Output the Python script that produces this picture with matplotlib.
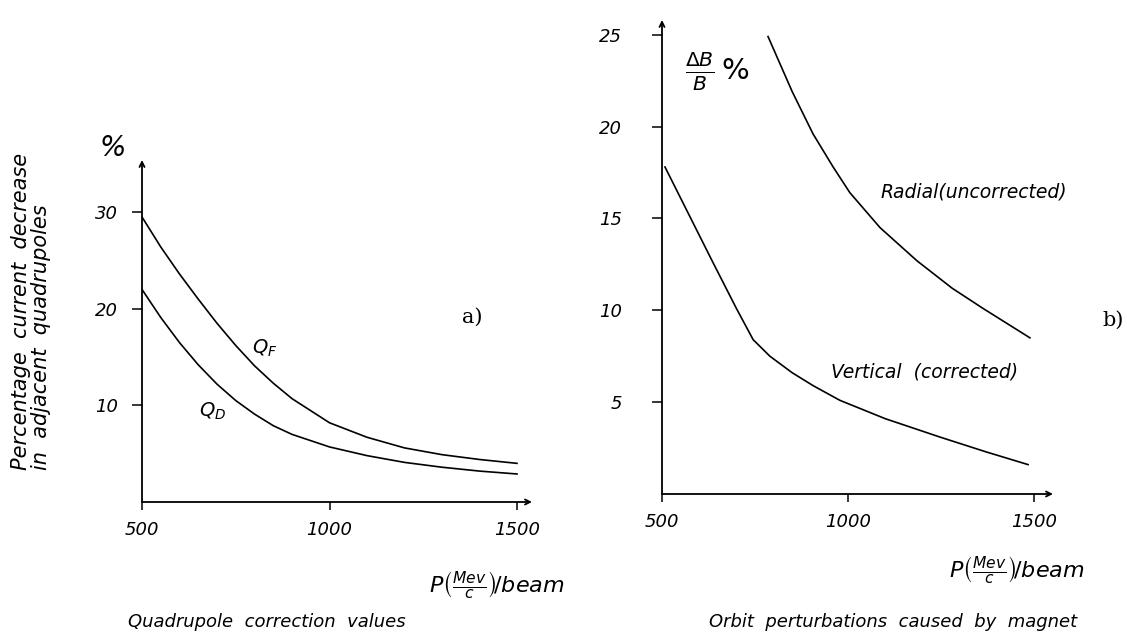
import matplotlib
matplotlib.use("Agg")
import matplotlib.pyplot as plt

plt.rcParams['font.family'] = ['DejaVu Sans']
plt.rcParams['mathtext.fontset'] = 'dejavusans'

# ---- data: panel a) quadrupole correction values ----
qf_p = [500, 550, 600, 650, 700, 750, 800, 850, 900, 1000, 1100, 1200, 1300, 1400, 1500]
qf_v = [29.5, 26.4, 23.6, 21.0, 18.5, 16.2, 14.1, 12.3, 10.7, 8.2, 6.7, 5.6, 4.9, 4.4, 4.0]
qd_p = [500, 550, 600, 650, 700, 750, 800, 850, 900, 1000, 1100, 1200, 1300, 1400, 1500]
qd_v = [22.0, 19.1, 16.5, 14.2, 12.2, 10.5, 9.1, 7.9, 7.0, 5.7, 4.8, 4.1, 3.6, 3.2, 2.9]
a_xticks = [500, 1000, 1500]
a_yticks = [10, 20, 30]

# ---- data: panel b) orbit perturbations ----
rad_p = [785, 850, 906, 960, 1005, 1086, 1185, 1280, 1363, 1489]
rad_v = [24.9, 21.9, 19.6, 17.8, 16.4, 14.5, 12.7, 11.2, 10.1, 8.5]
ver_p = [508, 570, 637, 700, 745, 790, 850, 906, 978, 1100, 1247, 1370, 1484]
ver_v = [17.8, 15.3, 12.6, 10.1, 8.4, 7.5, 6.6, 5.9, 5.1, 4.1, 3.1, 2.3, 1.6]
b_xticks = [500, 1000, 1500]
b_yticks = [5, 10, 15, 20, 25]

W, H = 1127, 636
fig = plt.figure(figsize=(W / 100, H / 100), dpi=100)
fig.patch.set_facecolor('white')


def fx(px):
    return px / W


def fy(py):
    return 1 - py / H


def style_axes(ax):
    for s in ax.spines.values():
        s.set_visible(False)
    arrow = dict(arrowstyle='->', lw=1.3, color='black', shrinkA=0, shrinkB=0,
                 mutation_scale=9)
    ax.annotate('', xy=(0, 1), xytext=(0, 0), xycoords='axes fraction',
                textcoords='axes fraction', arrowprops=arrow)
    ax.annotate('', xy=(1, 0), xytext=(0, 0), xycoords='axes fraction',
                textcoords='axes fraction', arrowprops=arrow)
    ax.tick_params(axis='y', direction='out', length=7, width=1.1, pad=10,
                   labelsize=13)
    ax.tick_params(axis='x', direction='out', length=6, width=1.1, pad=8,
                   labelsize=13)
    for lab in ax.get_xticklabels() + ax.get_yticklabels():
        lab.set_fontstyle('italic')


# ---- panel a ----
axa = fig.add_axes([fx(142), fy(502), fx(390), 342 / H])
axa.plot(qf_p, qf_v, color='black', lw=1.2)
axa.plot(qd_p, qd_v, color='black', lw=1.2)
axa.set_xlim(500, 1540)
axa.set_ylim(0, 35.4)
axa.set_xticks(a_xticks)
axa.set_yticks(a_yticks)
style_axes(axa)

fig.text(fx(113), fy(148), '%', fontsize=20, style='italic', ha='center', va='center')
fig.text(fx(31), fy(470), 'Percentage  current  decrease\nin  adjacent  quadrupoles',
         rotation=90, fontsize=15, style='italic', ha='center', va='bottom',
         multialignment='left', linespacing=1.0)
fig.text(fx(265), fy(348), r'$Q_F$', fontsize=14, ha='center', va='center')
fig.text(fx(213), fy(411), r'$Q_D$', fontsize=14, ha='center', va='center')
fig.text(fx(472), fy(317), 'a)', fontsize=15, family='DejaVu Serif', ha='center', va='center')
fig.text(fx(497), fy(585), r'$P\left(\frac{Mev}{c}\right)\!/beam$', fontsize=16,
         ha='center', va='center')
fig.text(fx(267), fy(622), 'Quadrupole  correction  values', fontsize=13,
         style='italic', ha='center', va='center')

# ---- panel b ----
axb = fig.add_axes([fx(662), fy(494), fx(391), 474 / H])
axb.plot(rad_p, rad_v, color='black', lw=1.2)
axb.plot(ver_p, ver_v, color='black', lw=1.2)
axb.set_xlim(500, 1551)
axb.set_ylim(0, 25.8)
axb.set_xticks(b_xticks)
axb.set_yticks(b_yticks)
style_axes(axb)
axb.tick_params(axis='y', pad=22)

fig.text(fx(717), fy(72), r'$\frac{\Delta B}{B}\,\%$', fontsize=21, ha='center', va='center')
fig.text(fx(974), fy(192), 'Radial(uncorrected)', fontsize=13.5, style='italic',
         ha='center', va='center')
fig.text(fx(925), fy(372), 'Vertical  (corrected)', fontsize=13.5, style='italic',
         ha='center', va='center')
fig.text(fx(1113), fy(320), 'b)', fontsize=15, family='DejaVu Serif', ha='center', va='center')
fig.text(fx(1017), fy(570), r'$P\left(\frac{Mev}{c}\right)\!/beam$', fontsize=16,
         ha='center', va='center')
fig.text(fx(893), fy(622), 'Orbit  perturbations  caused  by  magnet', fontsize=13,
         style='italic', ha='center', va='center')

fig.savefig('out.png', dpi=100, facecolor='white')
